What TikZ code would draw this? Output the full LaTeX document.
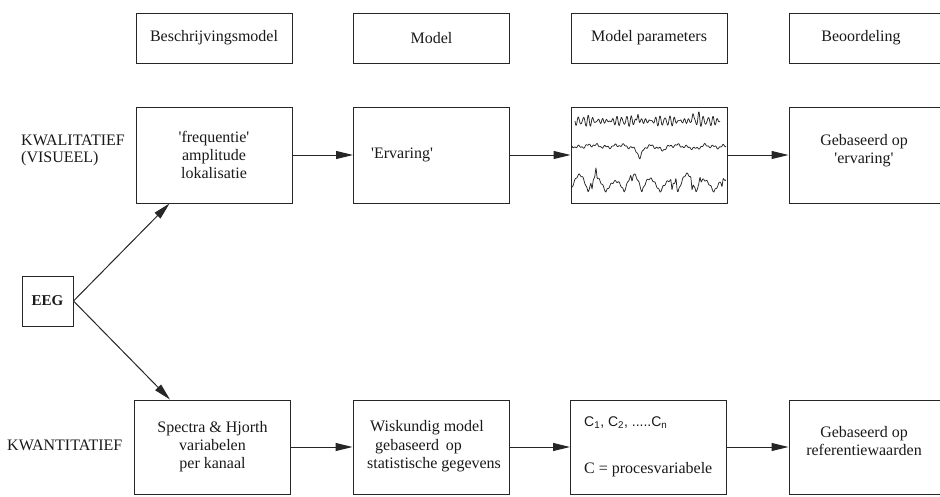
\documentclass[tikz,border=0pt]{standalone}
\usepackage{fontspec}
\setmainfont{Liberation Serif}
\newfontfamily\sansf{Liberation Sans}
\usetikzlibrary{arrows.meta}
\begin{document}
\begin{tikzpicture}[x=1pt,y=-1pt,
  ln/.style={line width=1pt, draw=black!85},
  box/.style={ln, rectangle, inner sep=0pt, align=center, text=black!90, font=\fontsize{16}{18}\selectfont},
  hdr/.style={box, minimum width=156pt, minimum height=50pt},
  cell/.style={box, minimum width=156pt, minimum height=96pt},
  lowcell/.style={box, minimum width=156pt, minimum height=94pt},
  arr/.style={ln, -{Triangle[length=17pt,width=8pt]}},
  lbl/.style={font=\fontsize{16}{18}\selectfont, inner sep=0pt, anchor=west, text=black!90},
  ctr/.style={font=\fontsize{16}{18}\selectfont, inner sep=0pt, align=center, text=black!90},
  wave/.style={line width=0.75pt, draw=black!85, line join=round},
]
\useasboundingbox (0,0) rectangle (940,496);
\clip (0,0) rectangle (940,496);

% header row
\node[hdr] (h1) at (214,38) {Beschrijvingsmodel};
\node[hdr] (h2) at (431.5,38) {Model};
\node[hdr] (h3) at (649,38) {Model parameters};
\node[hdr] (h4) at (867,38) {\hspace*{-12pt}Beoordeling};

% qualitative row
\node[cell] (q1) at (214,155) {\textquotesingle frequentie\textquotesingle\\amplitude\\lokalisatie};
\node[cell] (q2) at (431.5,155) {};
\node[lbl] (q2t) at (371,155) {\textquotesingle Ervaring\textquotesingle};
\node[cell] (q3) at (649,155) {};
\node[cell] (q4) at (867,155) {};
\node[ctr] (q4t) at (864,151) {Gebaseerd op\\\textquotesingle ervaring\textquotesingle};

% quantitative row
\node[lowcell] (k1) at (212.5,447) {Spectra \& Hjorth\\variabelen\\per kanaal};
\node[lowcell] (k2) at (431,447) {};
\node[lbl] (k2a) at (370,428) {Wiskundig model};
\node[lbl] (k2b) at (375,447) {gebaseerd\, op};
\node[lbl] (k2c) at (367,465) {statistische gegevens};
\node[lowcell] (k3) at (648.5,447) {};
\node[lbl, font=\sansf\fontsize{14}{16}\selectfont] (k3a) at (584,423) {C\textsubscript{1}, C\textsubscript{2}, .....C\textsubscript{n}};
\node[lbl] (k3b) at (584,470) {C = procesvariabele};
\node[lowcell] (k4) at (867,447) {};
\node[ctr] (k4t) at (864,441) {Gebaseerd op\\referentiewaarden};

% EEG and side labels
\node[box, minimum width=51pt, minimum height=50pt, font=\bfseries\fontsize{15}{16}\selectfont] (eeg) at (47.5,301) {EEG};
\node[lbl] (kw) at (21,140) {KWALITATIEF};
\node[lbl] (vis) at (21,159) {(VISUEEL)};
\node[lbl] (kn) at (7,445) {KWANTITATIEF};

% arrows
\draw[arr] (eeg.east) -- ([xshift=34pt]q1.south west);
\draw[arr] (eeg.east) -- ([xshift=36pt]k1.north west);
\draw[arr] (q1.east) -- (q2.west);
\draw[arr] (q2.east) -- (q3.west);
\draw[arr] (q3.east) -- (q4.west);
\draw[arr] (k1.east) -- (k2.west);
\draw[arr] (k2.east) -- (k3.west);
\draw[arr] (k3.east) -- (k4.west);

% EEG traces in the model parameter box
\draw[wave] plot[domain=0:145, samples=300, smooth]
  ({575+\x}, {121 + (2.8+1.8*sin(\x*9))*sin(\x*75) + 1.5*sin(\x*101)
     - 7*max(0,1-abs(\x-63)/1.5) - 8*max(0,1-abs(\x-118)/1.5) - 5*max(0,1-abs(\x-124)/1.5)});
\draw[wave] plot[domain=0:154, samples=300, smooth]
  ({572+\x}, {146 + 1.2*sin(\x*40) + 0.8*sin(\x*97) + 1.0*sin(\x*13)
     + 12/(1+((\x-68)/2.5)^2) + 3/(1+((\x-90)/3)^2) + 3/(1+((\x-125)/3)^2)});
\draw[wave] plot[domain=0:154, samples=400]
  ({572+\x}, {192 - (14+4*sin(\x*7))*abs(sin(\x*10+20)) + 1.0*sin(\x*90)
     + 8*max(0,1-abs(\x-20)/1.2) - 10*max(0,1-abs(\x-24)/1.2)
     + 7*max(0,1-abs(\x-60)/1.2) + 9*max(0,1-abs(\x-100)/1.2)
     - 9*max(0,1-abs(\x-104)/1.2) + 9*max(0,1-abs(\x-120)/1.2)
     - 6*max(0,1-abs(\x-128)/1.2) + 7*max(0,1-abs(\x-150)/1.2)});
\end{tikzpicture}
\end{document}
